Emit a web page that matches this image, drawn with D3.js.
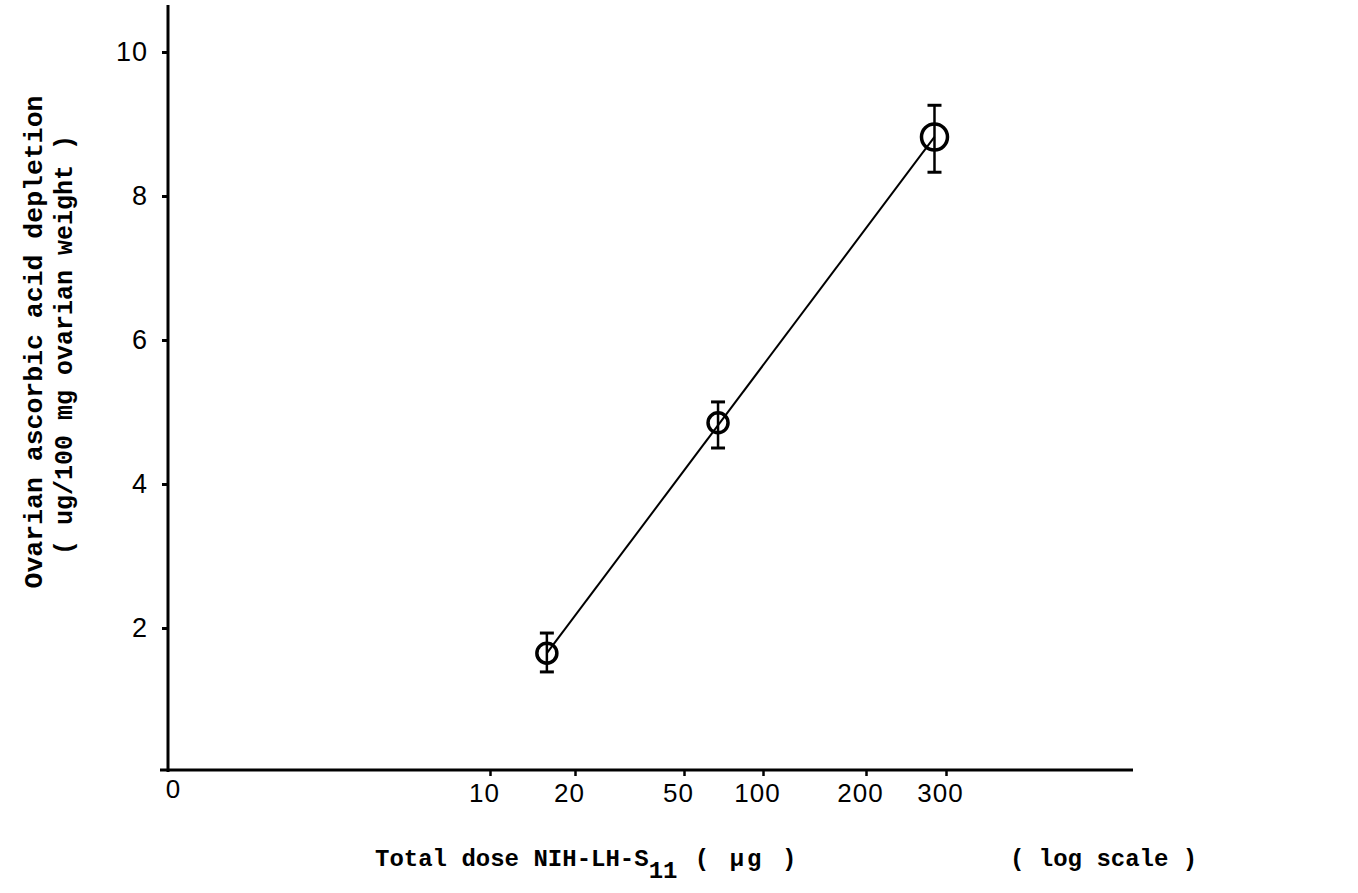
<!DOCTYPE html>
<html>
<head>
<meta charset="utf-8">
<script src="https://cdn.jsdelivr.net/npm/d3@7"></script>
<style>
  html, body { margin: 0; padding: 0; background: #fff; }
  svg { display: block; }
</style>
</head>
<body>
<svg id="chart" width="1358" height="893"></svg>
<script>
// ---- data ----
const doses = [15.9, 67.4, 283];          // total dose NIH-LH-S11 (µg)
const depletion = [1.65, 4.85, 8.82];     // ovarian ascorbic acid depletion
const errLow = [1.39, 4.5, 8.33];
const errHigh = [1.93, 5.14, 9.26];
const xTicks = [10, 20, 50, 100, 200, 300];
const yTicks = [2, 4, 6, 8, 10];

const svg = d3.select("#chart");
const numFont = "'Liberation Sans', Arial, sans-serif";
const monoFont = "'Liberation Mono', 'Courier New', monospace";

// hand-drawn log axis: piecewise log scale anchored at the labelled ticks
const x = d3.scaleLog()
  .domain(xTicks)
  .range([490, 575, 684, 763, 866, 946]);
const y = d3.scaleLinear().domain([0, 10]).range([772, 52]);

const originX = 168, axisY = 770;

// axes lines
svg.append("line").attr("x1", originX).attr("x2", originX)
  .attr("y1", 5).attr("y2", axisY + 2)
  .attr("stroke", "#000").attr("stroke-width", 3);
svg.append("line").attr("x1", 160).attr("x2", 1133)
  .attr("y1", axisY).attr("y2", axisY)
  .attr("stroke", "#000").attr("stroke-width", 3);

// y ticks
const yAxis = d3.axisLeft(y).tickValues(yTicks).tickSize(6).tickPadding(14)
  .tickFormat(d3.format("d"));
const gy = svg.append("g").attr("transform", `translate(${originX},0)`).call(yAxis);
gy.select(".domain").remove();
gy.selectAll(".tick line").attr("stroke", "#000").attr("stroke-width", 3);
gy.selectAll(".tick text").attr("font-family", numFont).attr("font-size", 27)
  .attr("fill", "#000").attr("letter-spacing", 1);

// x ticks
const xAxis = d3.axisBottom(x).tickValues(xTicks).tickSize(6).tickPadding(8)
  .tickFormat(d3.format("d"));
const gx = svg.append("g").attr("transform", `translate(0,${axisY})`).call(xAxis);
gx.select(".domain").remove();
gx.selectAll(".tick line").attr("stroke", "#000").attr("stroke-width", 2.5);
gx.selectAll(".tick text").attr("font-family", numFont).attr("font-size", 26)
  .attr("fill", "#000").attr("dx", -6).attr("letter-spacing", 1);

// origin zero label
svg.append("text").attr("x", originX + 5).attr("y", axisY + 28)
  .attr("text-anchor", "middle").attr("font-family", numFont)
  .attr("font-size", 26).text("0");

// fitted line
svg.append("line")
  .attr("x1", x(doses[0])).attr("y1", y(depletion[0]))
  .attr("x2", x(doses[2])).attr("y2", y(depletion[2]))
  .attr("stroke", "#000").attr("stroke-width", 2);

// error bars
const pts = doses.map((d, i) => ({ d, v: depletion[i], lo: errLow[i], hi: errHigh[i] }));
const eb = svg.append("g").selectAll("g").data(pts).join("g");
eb.append("line").attr("x1", p => x(p.d)).attr("x2", p => x(p.d))
  .attr("y1", p => y(p.hi)).attr("y2", p => y(p.lo))
  .attr("stroke", "#000").attr("stroke-width", 2.5);
eb.append("line").attr("x1", p => x(p.d) - 7).attr("x2", p => x(p.d) + 7)
  .attr("y1", p => y(p.hi)).attr("y2", p => y(p.hi))
  .attr("stroke", "#000").attr("stroke-width", 3);
eb.append("line").attr("x1", p => x(p.d) - 7).attr("x2", p => x(p.d) + 7)
  .attr("y1", p => y(p.lo)).attr("y2", p => y(p.lo))
  .attr("stroke", "#000").attr("stroke-width", 3);
eb.append("circle").attr("cx", p => x(p.d)).attr("cy", p => y(p.v))
  .attr("r", (p, i) => i === 2 ? 13 : 10)
  .attr("fill", "none").attr("stroke", "#000").attr("stroke-width", 3.5);

// x axis title
const xt = svg.append("text").attr("x", 375).attr("y", 866)
  .attr("font-family", monoFont).attr("font-size", 24).attr("font-weight", "bold")
  .attr("fill", "#000");
xt.append("tspan").text("Total dose NIH-LH-S");
xt.append("tspan").attr("dy", 12).attr("font-size", 24).text("11");
xt.append("tspan").attr("dy", -12).attr("letter-spacing", 3).text(" ( µg )");

svg.append("text").attr("x", 1010).attr("y", 866)
  .attr("font-family", monoFont).attr("font-size", 24).attr("font-weight", "bold")
  .text("( log scale )");

// y axis title
svg.append("text")
  .attr("transform", "translate(42,342) rotate(-90)")
  .attr("text-anchor", "middle").attr("font-family", monoFont)
  .attr("font-size", 26.5).attr("font-weight", "bold")
  .text("Ovarian ascorbic acid depletion");
svg.append("text")
  .attr("transform", "translate(72,345) rotate(-90)")
  .attr("text-anchor", "middle").attr("font-family", monoFont)
  .attr("font-size", 25).attr("font-weight", "bold")
  .text("( ug/100 mg ovarian weight )");
</script>
</body>
</html>
